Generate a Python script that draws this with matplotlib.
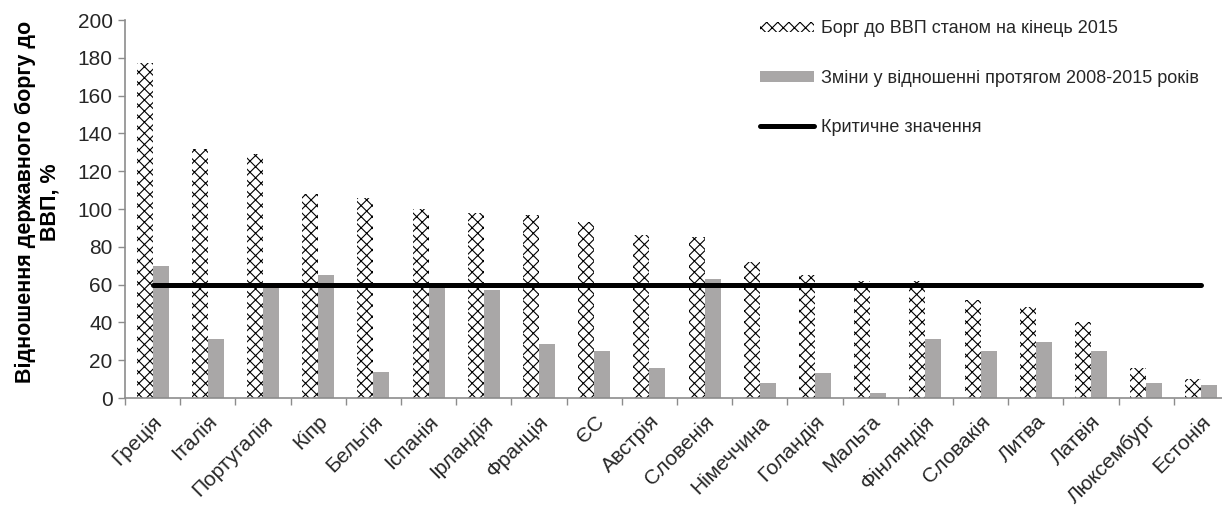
import numpy as np
import matplotlib
matplotlib.use("Agg")
import matplotlib.pyplot as plt
from matplotlib.patches import Patch
from matplotlib.lines import Line2D

plt.rcParams["font.family"] = ["Liberation Sans", "DejaVu Sans"]
plt.rcParams["hatch.linewidth"] = 0.8

countries = ["Греція", "Італія", "Португалія", "Кіпр", "Бельгія", "Іспанія",
             "Ірландія", "Франція", "ЄС", "Австрія", "Словенія", "Німеччина",
             "Голандія", "Мальта", "Фінляндія", "Словакія", "Литва", "Латвія",
             "Люксембург", "Естонія"]
debt_2015 = [177, 132, 129, 108, 106, 100, 98, 97, 93, 86, 85, 72,
             65, 62, 62, 52, 48, 40, 16, 10]
change_2008_2015 = [70, 31, 60, 65, 14, 60, 57, 28.5, 25, 16, 63, 8,
                    13, 2.5, 31, 25, 29.5, 25, 8, 7]
critical = 60

label_debt = "Борг до ВВП станом на кінець 2015"
label_change = "Зміни у відношенні протягом 2008-2015 років"
label_crit = "Критичне значення"
ylabel = "Відношення державного боргу до\nВВП, %"

gray = "#a9a7a7"
axis_gray = "#8c8c8c"
text_col = "#262626"

fig = plt.figure(figsize=(12.22, 5.09), dpi=100)
ax = fig.add_axes([0.1023, 0.218, 0.9034, 0.7427])

x = np.arange(len(countries))
w = 0.29
ax.bar(x - w / 2, debt_2015, w, color="white", edgecolor="black",
       linewidth=0, hatch="xxx", zorder=2)
ax.bar(x + w / 2, change_2008_2015, w, color=gray, linewidth=0, zorder=2)
ax.plot([x[0], x[-1]], [critical, critical], color="black", lw=3.6,
        solid_capstyle="round", zorder=3)

ax.set_xlim(-0.5, len(countries) - 0.5)
ax.set_ylim(0, 200)
ax.set_yticks(np.arange(0, 201, 20))
ax.tick_params(axis="y", labelsize=15, colors=axis_gray, labelcolor=text_col,
               length=5, width=1, pad=4)

# category boundaries as tick marks, labels centred on categories
ax.set_xticks(np.arange(-0.5, len(countries), 1.0))
ax.set_xticklabels([])
ax.set_xticks(x, minor=True)
ax.set_xticklabels(countries, minor=True, rotation=45, ha="right",
                   rotation_mode="anchor", fontsize=15, color=text_col)
ax.tick_params(axis="x", which="major", colors=axis_gray, length=5, width=1)
ax.tick_params(axis="x", which="minor", length=0, pad=10)

for s in ["top", "right"]:
    ax.spines[s].set_visible(False)
for s in ["left", "bottom"]:
    ax.spines[s].set_color(axis_gray)
    ax.spines[s].set_linewidth(1.2)

fig.text(0.031, 0.603, ylabel, rotation=90, ha="center", va="center",
         fontsize=15.5, fontweight="bold", color="black", linespacing=1.2)

handles = [Patch(facecolor="white", edgecolor="black", linewidth=0, hatch="xxx"),
           Patch(facecolor=gray, linewidth=0),
           Line2D([0], [1], color="black", lw=3.6, solid_capstyle="round")]
fig.legend(handles, [label_debt, label_change, label_crit],
           loc="upper left", bbox_to_anchor=(0.622, 0.96),
           bbox_transform=fig.transFigure, frameon=False, fontsize=13,
           handlelength=3.0, handleheight=0.55, handletextpad=0.4,
           labelspacing=1.8, borderpad=0, borderaxespad=0,
           labelcolor=text_col)

fig.savefig("out.png", dpi=100)
